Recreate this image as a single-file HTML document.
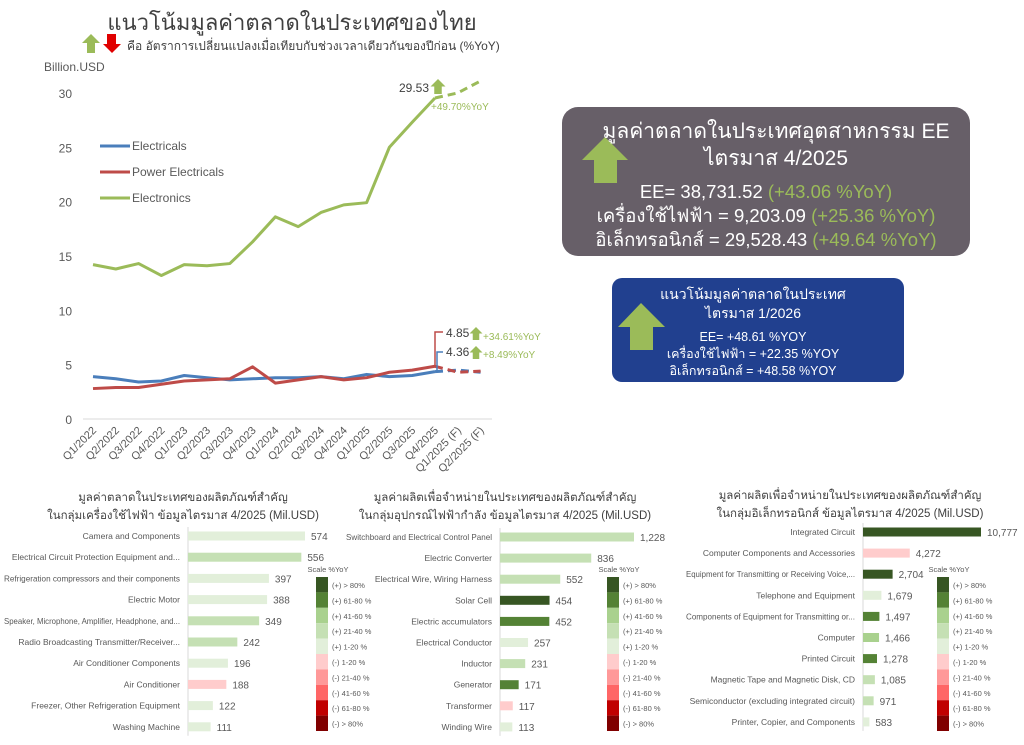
<!DOCTYPE html>
<html><head><meta charset="utf-8">
<style>
html,body{margin:0;padding:0;background:#fff;}
body{width:1024px;height:740px;overflow:hidden;position:relative;font-family:"Liberation Sans","DejaVu Sans",sans-serif;}
svg text{font-family:"Liberation Sans","DejaVu Sans",sans-serif;}
</style></head>
<body>
<svg id="svg" width="1024" height="740" viewBox="0 0 1024 740" xmlns="http://www.w3.org/2000/svg">
  <text x="292" y="30" font-size="22" fill="#404040" text-anchor="middle">แนวโน้มมูลค่าตลาดในประเทศของไทย</text>
  <polygon points="91,34 100,43 95,43 95,53 87,53 87,43 82,43" fill="#9bbb59"/>
  <polygon points="107,34 116,34 116,44 121,44 112,53 103,44 107,44" fill="#e00000"/>
  <text x="127" y="50" font-size="12" fill="#404040">คือ อัตราการเปลี่ยนแปลงเมื่อเทียบกับช่วงเวลาเดียวกันของปีก่อน (%YoY)</text>
  <text x="44" y="71" font-size="12" fill="#595959">Billion.USD</text>
  <g id="main"></g>

  <g>
    <rect x="562" y="107" width="408" height="149" rx="16" fill="#675f68"/>
    <polygon points="605,137 628,160 617,160 617,183 594,183 594,160 582,160" fill="#9bbb59"/>
    <text x="776" y="138" font-size="21" fill="#fff" text-anchor="middle">มูลค่าตลาดในประเทศอุตสาหกรรม EE</text>
    <text x="776" y="165" font-size="21" fill="#fff" text-anchor="middle">ไตรมาส 4/2025</text>
    <text x="766" y="198" font-size="18.5" fill="#fff" text-anchor="middle">EE= 38,731.52 <tspan fill="#9bbb59">(+43.06 %YoY)</tspan></text>
    <text x="766" y="222" font-size="18.5" fill="#fff" text-anchor="middle">เครื่องใช้ไฟฟ้า = 9,203.09 <tspan fill="#9bbb59">(+25.36 %YoY)</tspan></text>
    <text x="766" y="246" font-size="18.5" fill="#fff" text-anchor="middle">อิเล็กทรอนิกส์ = 29,528.43 <tspan fill="#9bbb59">(+49.64 %YoY)</tspan></text>
  </g>
  <g>
    <rect x="612" y="278" width="292" height="104" rx="10" fill="#21408f"/>
    <polygon points="641,303 665,327 653,327 653,350 630,350 630,327 618,327" fill="#9bbb59"/>
    <text x="753" y="299" font-size="14" fill="#fff" text-anchor="middle">แนวโน้มมูลค่าตลาดในประเทศ</text>
    <text x="753" y="318" font-size="14" fill="#fff" text-anchor="middle">ไตรมาส 1/2026</text>
    <text x="753" y="341" font-size="12.5" fill="#fff" text-anchor="middle">EE= +48.61 %YOY</text>
    <text x="753" y="358" font-size="12.5" fill="#fff" text-anchor="middle">เครื่องใช้ไฟฟ้า = +22.35 %YOY</text>
    <text x="753" y="375" font-size="12.5" fill="#fff" text-anchor="middle">อิเล็กทรอนิกส์ = +48.58 %YOY</text>
  </g>
  <g id="bars"></g>
</svg>
<script>
const NS="http://www.w3.org/2000/svg";
const quarters=["Q1/2022","Q2/2022","Q3/2022","Q4/2022","Q1/2023","Q2/2023","Q3/2023","Q4/2023","Q1/2024","Q2/2024","Q3/2024","Q4/2024","Q1/2025","Q2/2025","Q3/2025","Q4/2025","Q1/2025 (F)","Q2/2025 (F)"];
const electronics=[14.2,13.8,14.3,13.2,14.2,14.1,14.3,16.3,18.6,17.7,19.0,19.7,19.9,25.0,27.3,29.53,30.0,31.1];
const electricals=[3.9,3.7,3.4,3.5,4.0,3.8,3.6,3.7,3.8,3.8,3.9,3.7,4.1,3.9,4.0,4.36,4.5,4.3];
const powerElec=[2.8,2.9,2.9,3.2,3.5,3.6,3.7,4.8,3.3,3.6,3.9,3.6,3.8,4.3,4.5,4.85,4.3,4.4];
const yTicks=[0,5,10,15,20,25,30];
const actualCount=16;

function mk(tag,attrs,parent,text){const e=document.createElementNS(NS,tag);for(const k in attrs)e.setAttribute(k,attrs[k]);if(text!==undefined)e.textContent=text;parent.appendChild(e);return e;}
const X=i=>93+i*22.8;
const Y=v=>419-v*10.87;
const main=document.getElementById('main');
mk('line',{x1:83,y1:Y(0),x2:492,y2:Y(0),stroke:'#d9d9d9','stroke-width':1},main);
yTicks.forEach(t=>{const e=mk('text',{x:72,y:Y(t)+5,'font-size':12,fill:'#595959','text-anchor':'end'},main,t);

});
quarters.forEach((q,i)=>{const e=mk('text',{x:X(i)+4,y:Y(0)+12,'font-size':11,fill:'#595959','text-anchor':'end',transform:`rotate(-45 ${X(i)+4} ${Y(0)+12})`},main,q);

});
function series(vals,color,name){
  const solid=vals.slice(0,actualCount).map((v,i)=>`${X(i)},${Y(v)}`).join(' ');
  const p=mk('polyline',{points:solid,fill:'none',stroke:color,'stroke-width':3,'stroke-linejoin':'round'},main);
  
  
  const dash=vals.slice(actualCount-1).map((v,j)=>`${X(j+actualCount-1)},${Y(v)}`).join(' ');
  const d=mk('polyline',{points:dash,fill:'none',stroke:color,'stroke-width':3,'stroke-dasharray':'8,5'},main);
  
  
}
series(electricals,'#4a7ebb','electricals');
series(powerElec,'#be4b48','power-electricals');
series(electronics,'#9bbb59','electronics');
[['Electricals','#4a7ebb',146],['Power Electricals','#be4b48',172],['Electronics','#9bbb59',198]].forEach(l=>{
  const g=mk('g',{},main);
  
  
  mk('line',{x1:100,y1:l[2],x2:130,y2:l[2],stroke:l[1],'stroke-width':3},g);
  mk('text',{x:132,y:l[2]+4,'font-size':12,fill:'#595959'},g,l[0]);
});
function upArrow(x,y,s,parent){mk('polygon',{points:`${x},${y} ${x+s/2},${y+s/2} ${x+s/4},${y+s/2} ${x+s/4},${y+s} ${x-s/4},${y+s} ${x-s/4},${y+s/2} ${x-s/2},${y+s/2}`,fill:'#9bbb59'},parent);}
const li=actualCount-1;
const ann=mk('g',{},main);


mk('text',{x:X(li)-6,y:Y(electronics[li])-6,'font-size':12,fill:'#404040','text-anchor':'end'},ann,electronics[li].toFixed(2));
upArrow(X(li)+3,Y(electronics[li])-19,15,ann);
mk('text',{x:X(li)-4,y:Y(electronics[li])+12,'font-size':10,fill:'#9bbb59'},ann,'+49.70%YoY');
mk('polyline',{points:`${X(li)},${Y(powerElec[li])} ${X(li)},332 ${X(li)+8},332`,fill:'none',stroke:'#be4b48','stroke-width':1.5},ann);
mk('polyline',{points:`${X(li)+2},${Y(electricals[li])} ${X(li)+2},352 ${X(li)+8},352`,fill:'none',stroke:'#4a7ebb','stroke-width':1.5},ann);
mk('text',{x:X(li)+11,y:337,'font-size':12,fill:'#404040'},ann,powerElec[li].toFixed(2));
mk('text',{x:X(li)+11,y:356,'font-size':12,fill:'#404040'},ann,electricals[li].toFixed(2));
upArrow(X(li)+41,327,13,ann);upArrow(X(li)+41,346,13,ann);
mk('text',{x:X(li)+48,y:340,'font-size':10,fill:'#9bbb59'},ann,'+34.61%YoY');
mk('text',{x:X(li)+48,y:358,'font-size':10,fill:'#9bbb59'},ann,'+8.49%YoY');

const C=['#375623','#548235','#a9d18e','#c5e0b4','#e2efda','#ffcccc','#ff9999','#ff6666','#c00000','#800000'];
const scaleLabels=['(+) > 80%','(+) 61-80 %','(+) 41-60 %','(+) 21-40 %','(+) 1-20 %','(-) 1-20 %','(-) 21-40 %','(-) 41-60 %','(-) 61-80 %','(-) > 80%'];
const cat1=["Camera and Components","Electrical Circuit Protection Equipment and...","Refrigeration compressors and their components","Electric Motor","Speaker, Microphone, Amplifier, Headphone, and...","Radio Broadcasting Transmitter/Receiver...","Air Conditioner Components","Air Conditioner","Freezer, Other Refrigeration Equipment","Washing Machine"];
const val1=[574,556,397,388,349,242,196,188,122,111];
const cls1=[4,3,4,4,3,3,4,5,4,4];
const cat2=["Switchboard and Electrical Control Panel","Electric Converter","Electrical Wire, Wiring Harness","Solar Cell","Electric accumulators","Electrical Conductor","Inductor","Generator","Transformer","Winding Wire"];
const val2=[1228,836,552,454,452,257,231,171,117,113];
const cls2=[3,3,3,0,1,4,3,1,5,4];
const cat3=["Integrated Circuit","Computer Components and Accessories","Equipment for Transmitting or Receiving Voice,...","Telephone and Equipment","Components of Equipment for Transmitting or...","Computer","Printed Circuit","Magnetic Tape and Magnetic Disk, CD","Semiconductor (excluding integrated circuit)","Printer, Copier, and Components"];
const val3=[10777,4272,2704,1679,1497,1466,1278,1085,971,583];
const cls3=[0,5,0,4,1,2,1,3,3,4];
const bars=document.getElementById('bars');
function barChart(o){
  const g=mk('g',{},bars);
  
  
  mk('text',{x:o.tx,y:o.ty,'font-size':11.5,fill:'#404040','text-anchor':'middle'},g,o.t1);
  mk('text',{x:o.tx,y:o.ty+18,'font-size':11.5,fill:'#404040','text-anchor':'middle'},g,o.t2);
  mk('line',{x1:o.ax,y1:o.y0-9,x2:o.ax,y2:o.y0+9*o.dy+9,stroke:'#d9d9d9'},g);
  const max=Math.max(...o.vals);
  o.vals.forEach((v,i)=>{const y=o.y0+i*o.dy;const w=v/max*o.w;
    const r=mk('rect',{x:o.ax,y:y-4.5,width:w,height:9,fill:C[o.cls[i]]},g);
    
    
    const t=mk('text',{x:o.ax-8,y:y+3,'font-size':8.5,fill:'#595959','text-anchor':'end'},g,o.cats[i]);
    const maxW=o.ax-8-o.minX;
    if(t.getComputedTextLength()>maxW){t.setAttribute('textLength',maxW);t.setAttribute('lengthAdjust','spacingAndGlyphs');}
    mk('text',{x:o.ax+w+6,y:y+4,'font-size':10,fill:'#595959'},g,v.toLocaleString('en-US'));
  });
  const lg=mk('g',{},g);
  
  
  mk('text',{x:o.lx+12,y:572,'font-size':7.5,fill:'#595959','text-anchor':'middle'},lg,'Scale %YoY');
  C.forEach((c,k)=>{mk('rect',{x:o.lx,y:577+k*15.4,width:12,height:15.4,fill:c},lg);
    mk('text',{x:o.lx+16,y:577+k*15.4+11,'font-size':7.5,fill:'#595959'},lg,scaleLabels[k]);});
}
barChart({name:'electrical-appliances-bar-chart',t1:'มูลค่าตลาดในประเทศของผลิตภัณฑ์สำคัญ',t2:'ในกลุ่มเครื่องใช้ไฟฟ้า ข้อมูลไตรมาส 4/2025 (Mil.USD)',tx:183,ty:501,ax:188,y0:536,dy:21.2,w:117,vals:val1,cats:cat1,cls:cls1,lx:316,minX:4});
barChart({name:'power-electricals-bar-chart',t1:'มูลค่าผลิตเพื่อจำหน่ายในประเทศของผลิตภัณฑ์สำคัญ',t2:'ในกลุ่มอุปกรณ์ไฟฟ้ากำลัง ข้อมูลไตรมาส 4/2025 (Mil.USD)',tx:505,ty:501,ax:500,y0:537,dy:21.1,w:134,vals:val2,cats:cat2,cls:cls2,lx:607,minX:346});
barChart({name:'electronics-bar-chart',t1:'มูลค่าผลิตเพื่อจำหน่ายในประเทศของผลิตภัณฑ์สำคัญ',t2:'ในกลุ่มอิเล็กทรอนิกส์ ข้อมูลไตรมาส 4/2025 (Mil.USD)',tx:850,ty:499,ax:863,y0:532,dy:21.1,w:118,vals:val3,cats:cat3,cls:cls3,lx:937,minX:686});
</script>
</body></html>
